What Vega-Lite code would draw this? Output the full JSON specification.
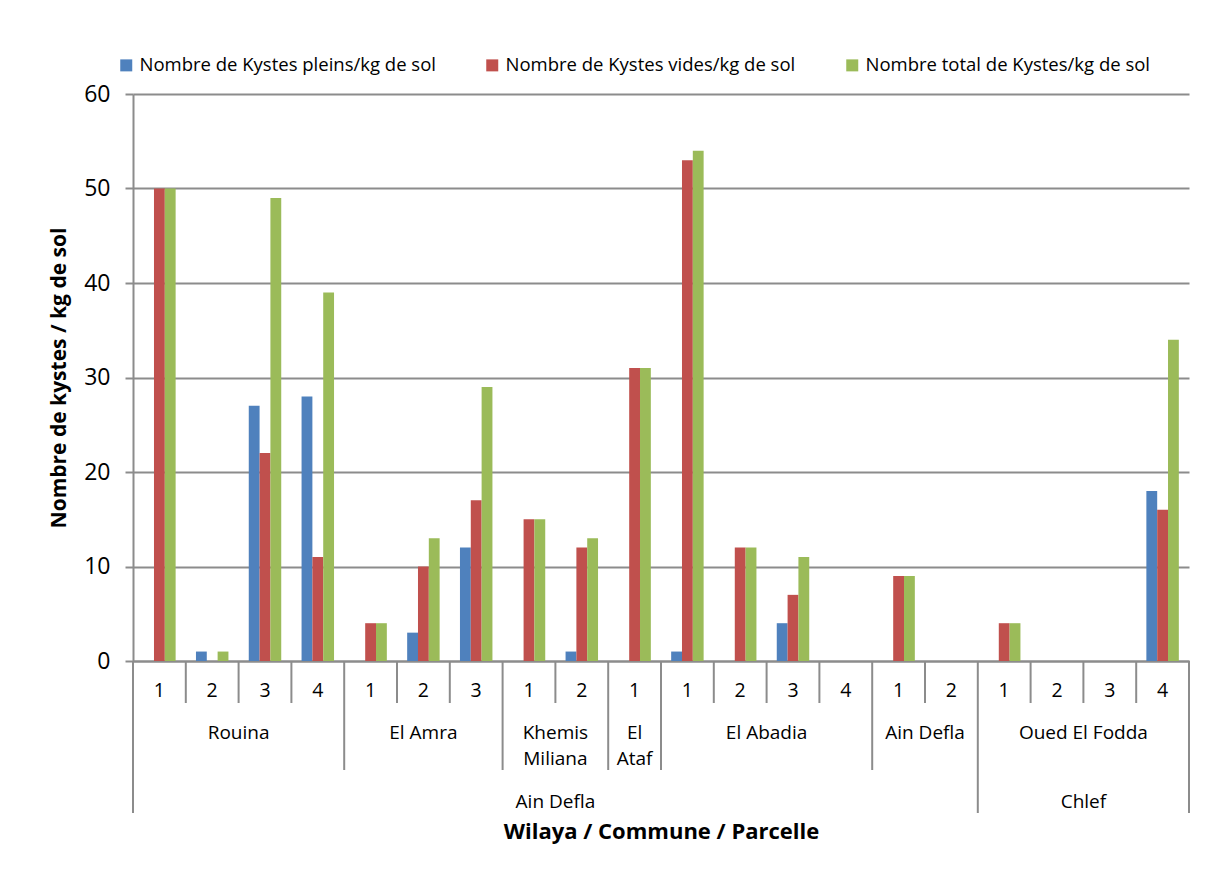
{
  "$schema": "https://vega.github.io/schema/vega-lite/v6.json",
  "background": "white",
  "padding": {"left": 48, "top": 56, "right": 24, "bottom": 30},
  "bounds": "flush",
  "spacing": 0,
  "config": {
    "view": {"stroke": null},
    "font": "Open Sans",
    "axis": {"labelFont": "Open Sans", "titleFont": "Open Sans"},
    "legend": {"labelFont": "Open Sans"}
  },
  "datasets": {
    "bars": [
      {"idx": 1, "series": "Nombre de Kystes pleins/kg de sol", "value": 0},
      {"idx": 1, "series": "Nombre de Kystes vides/kg de sol", "value": 50},
      {"idx": 1, "series": "Nombre total de Kystes/kg de sol", "value": 50},
      {"idx": 2, "series": "Nombre de Kystes pleins/kg de sol", "value": 1},
      {"idx": 2, "series": "Nombre de Kystes vides/kg de sol", "value": 0},
      {"idx": 2, "series": "Nombre total de Kystes/kg de sol", "value": 1},
      {"idx": 3, "series": "Nombre de Kystes pleins/kg de sol", "value": 27},
      {"idx": 3, "series": "Nombre de Kystes vides/kg de sol", "value": 22},
      {"idx": 3, "series": "Nombre total de Kystes/kg de sol", "value": 49},
      {"idx": 4, "series": "Nombre de Kystes pleins/kg de sol", "value": 28},
      {"idx": 4, "series": "Nombre de Kystes vides/kg de sol", "value": 11},
      {"idx": 4, "series": "Nombre total de Kystes/kg de sol", "value": 39},
      {"idx": 5, "series": "Nombre de Kystes pleins/kg de sol", "value": 0},
      {"idx": 5, "series": "Nombre de Kystes vides/kg de sol", "value": 4},
      {"idx": 5, "series": "Nombre total de Kystes/kg de sol", "value": 4},
      {"idx": 6, "series": "Nombre de Kystes pleins/kg de sol", "value": 3},
      {"idx": 6, "series": "Nombre de Kystes vides/kg de sol", "value": 10},
      {"idx": 6, "series": "Nombre total de Kystes/kg de sol", "value": 13},
      {"idx": 7, "series": "Nombre de Kystes pleins/kg de sol", "value": 12},
      {"idx": 7, "series": "Nombre de Kystes vides/kg de sol", "value": 17},
      {"idx": 7, "series": "Nombre total de Kystes/kg de sol", "value": 29},
      {"idx": 8, "series": "Nombre de Kystes pleins/kg de sol", "value": 0},
      {"idx": 8, "series": "Nombre de Kystes vides/kg de sol", "value": 15},
      {"idx": 8, "series": "Nombre total de Kystes/kg de sol", "value": 15},
      {"idx": 9, "series": "Nombre de Kystes pleins/kg de sol", "value": 1},
      {"idx": 9, "series": "Nombre de Kystes vides/kg de sol", "value": 12},
      {"idx": 9, "series": "Nombre total de Kystes/kg de sol", "value": 13},
      {"idx": 10, "series": "Nombre de Kystes pleins/kg de sol", "value": 0},
      {"idx": 10, "series": "Nombre de Kystes vides/kg de sol", "value": 31},
      {"idx": 10, "series": "Nombre total de Kystes/kg de sol", "value": 31},
      {"idx": 11, "series": "Nombre de Kystes pleins/kg de sol", "value": 1},
      {"idx": 11, "series": "Nombre de Kystes vides/kg de sol", "value": 53},
      {"idx": 11, "series": "Nombre total de Kystes/kg de sol", "value": 54},
      {"idx": 12, "series": "Nombre de Kystes pleins/kg de sol", "value": 0},
      {"idx": 12, "series": "Nombre de Kystes vides/kg de sol", "value": 12},
      {"idx": 12, "series": "Nombre total de Kystes/kg de sol", "value": 12},
      {"idx": 13, "series": "Nombre de Kystes pleins/kg de sol", "value": 4},
      {"idx": 13, "series": "Nombre de Kystes vides/kg de sol", "value": 7},
      {"idx": 13, "series": "Nombre total de Kystes/kg de sol", "value": 11},
      {"idx": 14, "series": "Nombre de Kystes pleins/kg de sol", "value": 0},
      {"idx": 14, "series": "Nombre de Kystes vides/kg de sol", "value": 0},
      {"idx": 14, "series": "Nombre total de Kystes/kg de sol", "value": 0},
      {"idx": 15, "series": "Nombre de Kystes pleins/kg de sol", "value": 0},
      {"idx": 15, "series": "Nombre de Kystes vides/kg de sol", "value": 9},
      {"idx": 15, "series": "Nombre total de Kystes/kg de sol", "value": 9},
      {"idx": 16, "series": "Nombre de Kystes pleins/kg de sol", "value": 0},
      {"idx": 16, "series": "Nombre de Kystes vides/kg de sol", "value": 0},
      {"idx": 16, "series": "Nombre total de Kystes/kg de sol", "value": 0},
      {"idx": 17, "series": "Nombre de Kystes pleins/kg de sol", "value": 0},
      {"idx": 17, "series": "Nombre de Kystes vides/kg de sol", "value": 4},
      {"idx": 17, "series": "Nombre total de Kystes/kg de sol", "value": 4},
      {"idx": 18, "series": "Nombre de Kystes pleins/kg de sol", "value": 0},
      {"idx": 18, "series": "Nombre de Kystes vides/kg de sol", "value": 0},
      {"idx": 18, "series": "Nombre total de Kystes/kg de sol", "value": 0},
      {"idx": 19, "series": "Nombre de Kystes pleins/kg de sol", "value": 0},
      {"idx": 19, "series": "Nombre de Kystes vides/kg de sol", "value": 0},
      {"idx": 19, "series": "Nombre total de Kystes/kg de sol", "value": 0},
      {"idx": 20, "series": "Nombre de Kystes pleins/kg de sol", "value": 18},
      {"idx": 20, "series": "Nombre de Kystes vides/kg de sol", "value": 16},
      {"idx": 20, "series": "Nombre total de Kystes/kg de sol", "value": 34}
    ],
    "parcels": [
      {"idx": 1, "wilaya": "Ain Defla", "commune": "Rouina", "parcelle": "1"},
      {"idx": 2, "wilaya": "Ain Defla", "commune": "Rouina", "parcelle": "2"},
      {"idx": 3, "wilaya": "Ain Defla", "commune": "Rouina", "parcelle": "3"},
      {"idx": 4, "wilaya": "Ain Defla", "commune": "Rouina", "parcelle": "4"},
      {"idx": 5, "wilaya": "Ain Defla", "commune": "El Amra", "parcelle": "1"},
      {"idx": 6, "wilaya": "Ain Defla", "commune": "El Amra", "parcelle": "2"},
      {"idx": 7, "wilaya": "Ain Defla", "commune": "El Amra", "parcelle": "3"},
      {"idx": 8, "wilaya": "Ain Defla", "commune": "Khemis\nMiliana", "parcelle": "1"},
      {"idx": 9, "wilaya": "Ain Defla", "commune": "Khemis\nMiliana", "parcelle": "2"},
      {"idx": 10, "wilaya": "Ain Defla", "commune": "El\nAtaf", "parcelle": "1"},
      {"idx": 11, "wilaya": "Ain Defla", "commune": "El Abadia", "parcelle": "1"},
      {"idx": 12, "wilaya": "Ain Defla", "commune": "El Abadia", "parcelle": "2"},
      {"idx": 13, "wilaya": "Ain Defla", "commune": "El Abadia", "parcelle": "3"},
      {"idx": 14, "wilaya": "Ain Defla", "commune": "El Abadia", "parcelle": "4"},
      {"idx": 15, "wilaya": "Ain Defla", "commune": "Ain Defla", "parcelle": "1"},
      {"idx": 16, "wilaya": "Ain Defla", "commune": "Ain Defla", "parcelle": "2"},
      {"idx": 17, "wilaya": "Chlef", "commune": "Oued El Fodda", "parcelle": "1"},
      {"idx": 18, "wilaya": "Chlef", "commune": "Oued El Fodda", "parcelle": "2"},
      {"idx": 19, "wilaya": "Chlef", "commune": "Oued El Fodda", "parcelle": "3"},
      {"idx": 20, "wilaya": "Chlef", "commune": "Oued El Fodda", "parcelle": "4"}
    ],
    "bounds": [
      {"at": 0.5, "depth": 3}, {"at": 1.5, "depth": 1}, {"at": 2.5, "depth": 1},
      {"at": 3.5, "depth": 1}, {"at": 4.5, "depth": 2}, {"at": 5.5, "depth": 1},
      {"at": 6.5, "depth": 1}, {"at": 7.5, "depth": 2}, {"at": 8.5, "depth": 1},
      {"at": 9.5, "depth": 2}, {"at": 10.5, "depth": 2}, {"at": 11.5, "depth": 1},
      {"at": 12.5, "depth": 1}, {"at": 13.5, "depth": 1}, {"at": 14.5, "depth": 2},
      {"at": 15.5, "depth": 1}, {"at": 16.5, "depth": 3}, {"at": 17.5, "depth": 1},
      {"at": 18.5, "depth": 1}, {"at": 19.5, "depth": 1}, {"at": 20.5, "depth": 3}
    ]
  },
  "vconcat": [
    {
      "width": 1056,
      "height": 567,
      "data": {"name": "bars"},
      "mark": {"type": "bar"},
      "encoding": {
        "x": {
          "field": "idx", "type": "ordinal",
          "scale": {"paddingInner": 0.385, "paddingOuter": 0.1925},
          "axis": {"labels": false, "ticks": false, "title": null, "domainColor": "#8c8c8c", "domainWidth": 2}
        },
        "xOffset": {
          "field": "series", "type": "nominal",
          "sort": ["Nombre de Kystes pleins/kg de sol", "Nombre de Kystes vides/kg de sol", "Nombre total de Kystes/kg de sol"],
          "scale": {"paddingInner": 0, "paddingOuter": 0}
        },
        "y": {
          "field": "value", "type": "quantitative",
          "scale": {"domain": [0, 60], "nice": false},
          "axis": {
            "values": [0, 10, 20, 30, 40, 50, 60],
            "title": "Nombre de kystes / kg de sol",
            "titleFontSize": 21, "titleFontWeight": "bold", "titleColor": "#000000", "titlePadding": 14,
            "labelFontSize": 23, "labelColor": "#000000", "labelPadding": 15,
            "tickSize": 8, "tickColor": "#8c8c8c", "tickWidth": 2,
            "domainColor": "#8c8c8c", "domainWidth": 2,
            "gridColor": "#8c8c8c", "gridWidth": 2
          }
        },
        "color": {
          "field": "series", "type": "nominal",
          "scale": {
            "domain": ["Nombre de Kystes pleins/kg de sol", "Nombre de Kystes vides/kg de sol", "Nombre total de Kystes/kg de sol"],
            "range": ["#4F81BD", "#C0504D", "#9BBB59"]
          },
          "legend": {
            "orient": "none", "legendX": -16, "legendY": -38, "direction": "horizontal",
            "title": null, "symbolType": "square", "symbolSize": 144, "symbolStrokeWidth": 0,
            "labelFontSize": 18.5, "labelColor": "#000000", "labelOffset": 4,
            "columnPadding": 47, "padding": 0, "labelLimit": 0
          }
        }
      }
    },
    {
      "width": 1056,
      "height": 42,
      "layer": [
        {
          "data": {"name": "bounds"},
          "mark": {"type": "rule", "color": "#8c8c8c", "strokeWidth": 2},
          "encoding": {"x": {"field": "at", "type": "quantitative", "scale": {"domain": [0.5, 20.5], "nice": false, "zero": false}, "axis": null}}
        },
        {
          "data": {"name": "parcels"},
          "mark": {"type": "text", "fontSize": 19.5, "baseline": "middle", "dy": 9, "color": "#000000"},
          "encoding": {
            "x": {"field": "idx", "type": "quantitative", "scale": {"domain": [0.5, 20.5], "nice": false, "zero": false}, "axis": null},
            "text": {"field": "parcelle"}
          }
        }
      ]
    },
    {
      "width": 1056,
      "height": 67,
      "layer": [
        {
          "data": {"name": "bounds"},
          "transform": [{"filter": "datum.depth >= 2"}],
          "mark": {"type": "rule", "color": "#8c8c8c", "strokeWidth": 2},
          "encoding": {"x": {"field": "at", "type": "quantitative", "scale": {"domain": [0.5, 20.5], "nice": false, "zero": false}, "axis": null}}
        },
        {
          "data": {"name": "parcels"},
          "transform": [{"aggregate": [{"op": "mean", "field": "idx", "as": "mid"}], "groupby": ["wilaya", "commune"]}],
          "mark": {"type": "text", "fontSize": 19, "baseline": "top", "dy": -13, "lineBreak": "\n", "lineHeight": 26, "color": "#000000"},
          "encoding": {
            "x": {"field": "mid", "type": "quantitative", "scale": {"domain": [0.5, 20.5], "nice": false, "zero": false}, "axis": null},
            "text": {"field": "commune"}
          }
        }
      ]
    },
    {
      "width": 1056,
      "height": 43,
      "layer": [
        {
          "data": {"name": "bounds"},
          "transform": [{"filter": "datum.depth >= 3"}],
          "mark": {"type": "rule", "color": "#8c8c8c", "strokeWidth": 2},
          "encoding": {"x": {"field": "at", "type": "quantitative", "scale": {"domain": [0.5, 20.5], "nice": false, "zero": false},
            "axis": {"title": "Wilaya / Commune / Parcelle", "labels": false, "ticks": false, "domain": false, "grid": false,
              "titleFontSize": 22, "titleFontWeight": "bold", "titleColor": "#000000", "titlePadding": 8}}}
        },
        {
          "data": {"name": "parcels"},
          "transform": [{"aggregate": [{"op": "mean", "field": "idx", "as": "mid"}], "groupby": ["wilaya"]}],
          "mark": {"type": "text", "fontSize": 19, "baseline": "middle", "dy": 10, "color": "#000000"},
          "encoding": {
            "x": {"field": "mid", "type": "quantitative", "scale": {"domain": [0.5, 20.5], "nice": false, "zero": false},
              "axis": {"title": "Wilaya / Commune / Parcelle", "labels": false, "ticks": false, "domain": false, "grid": false,
                "titleFontSize": 22, "titleFontWeight": "bold", "titleColor": "#000000", "titlePadding": 8}},
            "text": {"field": "wilaya"}
          }
        }
      ]
    }
  ]
}
